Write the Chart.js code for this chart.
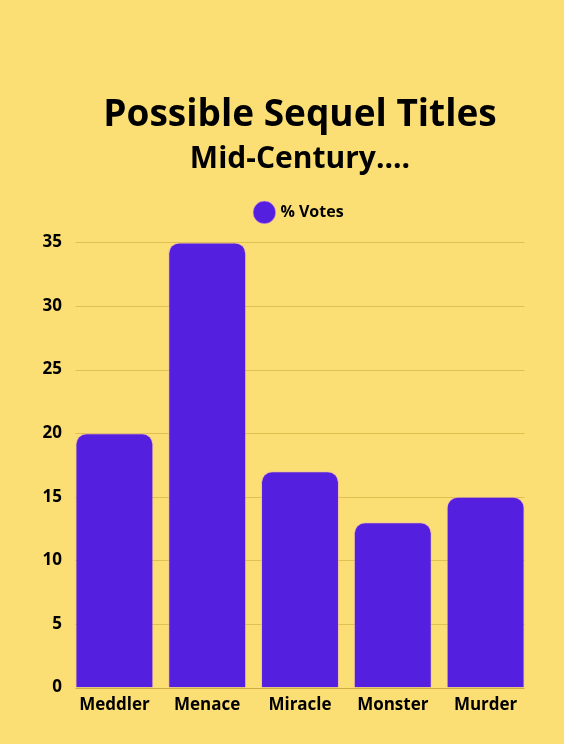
<!DOCTYPE html>
<html>
<head>
<meta charset="utf-8">
<script src="https://cdn.jsdelivr.net/npm/chart.js@4"></script>
<style>
  html, body { margin: 0; padding: 0; background: #fbdf74; }
  #wrap { width: 564px; height: 744px; }
</style>
</head>
<body>
<div id="wrap"><canvas id="c" width="564" height="744"></canvas></div>
<script>
const categories = ['Meddler', 'Menace', 'Miracle', 'Monster', 'Murder'];
const votes = [20, 35, 17, 13, 15];
const seriesName = '% Votes';
const yTicks = [0, 5, 10, 15, 20, 25, 30, 35];

const FONT = '"Open Sans", "Noto Sans", sans-serif';
const BAR = '#551fe0';
const GRID = 'rgba(214, 182, 70, 0.75)';

// Horizontal guide lines that span only the width occupied by the bars
const barGrid = {
  id: 'barGrid',
  beforeDatasetsDraw(chart) {
    const meta = chart.getDatasetMeta(0);
    const first = meta.data[0], last = meta.data[meta.data.length - 1];
    const x0 = first.x - first.width / 2;
    const x1 = last.x + last.width / 2;
    const y = chart.scales.y;
    const ctx = chart.ctx;
    ctx.save();
    ctx.lineWidth = 1;
    y.ticks.forEach(t => {
      const py = Math.round(y.getPixelForValue(t.value)) + 0.5;
      ctx.strokeStyle = t.value === 0 ? 'rgba(200, 165, 60, 0.9)' : GRID;
      ctx.beginPath();
      ctx.moveTo(x0, py);
      ctx.lineTo(x1, py);
      ctx.stroke();
    });
    ctx.restore();
  }
};

// Extra space between the legend and the plot
const legendGap = {
  id: 'legendGap',
  beforeInit(chart) {
    const fit = chart.legend.fit;
    chart.legend.fit = function () {
      fit.call(this);
      this.height += 12;
    };
  }
};

new Chart(document.getElementById('c'), {
  type: 'bar',
  data: {
    labels: categories,
    datasets: [{
      label: seriesName,
      data: votes,
      backgroundColor: BAR,
      borderColor: 'rgba(235, 170, 200, 0.55)',
      borderWidth: 1,
      borderSkipped: 'bottom',
      borderRadius: { topLeft: 11, topRight: 11, bottomLeft: 0, bottomRight: 0 },
      categoryPercentage: 1.0,
      barPercentage: 0.84
    }]
  },
  options: {
    responsive: false,
    animation: false,
    devicePixelRatio: 1,
    layout: { padding: { left: 36, right: 32, top: 0, bottom: 22 } },
    plugins: {
      title: {
        display: true,
        text: 'Possible Sequel Titles',
        fullSize: false,
        color: '#000',
        font: { family: FONT, size: 37, weight: 'bold' },
        padding: { top: 93, bottom: 4 }
      },
      subtitle: {
        display: true,
        text: 'Mid-Century....',
        fullSize: false,
        color: '#000',
        font: { family: FONT, size: 30, weight: 'bold' },
        padding: { top: 0, bottom: 17 }
      },
      legend: {
        display: true,
        fullSize: false,
        labels: {
          usePointStyle: true,
          pointStyle: 'circle',
          boxWidth: 18,
          boxHeight: 18,
          color: '#000',
          font: { family: FONT, size: 16, weight: 'bold' },
          padding: 10
        }
      },
      tooltip: { enabled: false }
    },
    scales: {
      x: {
        grid: { display: false, drawTicks: false },
        border: { display: false },
        ticks: {
          color: '#000',
          font: { family: FONT, size: 17, weight: 'bold' },
          padding: 7
        }
      },
      y: {
        min: 0,
        max: 35,
        afterBuildTicks(scale) { scale.ticks = yTicks.map(v => ({ value: v })); },
        afterFit(scale) { scale.width = 32; },
        grid: { display: false, drawTicks: false },
        border: { display: false },
        ticks: {
          color: '#000',
          font: { family: FONT, size: 17, weight: 'bold' },
          padding: 6
        }
      }
    }
  },
  plugins: [barGrid, legendGap]
});
</script>
</body>
</html>
